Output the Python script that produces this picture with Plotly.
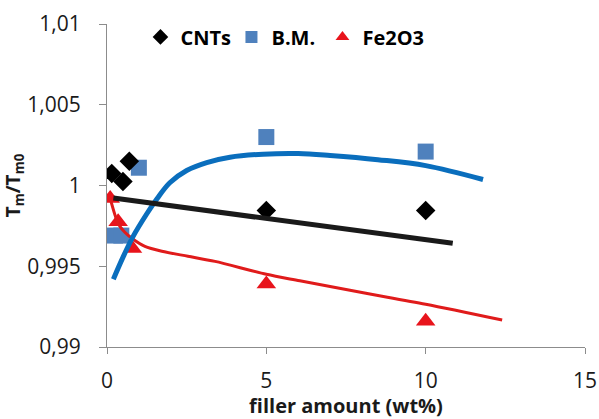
import plotly.graph_objects as go

# Data points
cnt_x = [0.15, 0.5, 0.7, 5, 10]
cnt_y = [1.00075, 1.00025, 1.0015, 0.99845, 0.99845]

bm_x = [0.25, 0.45, 1.0, 5, 10]
bm_y = [0.9969, 0.9969, 1.0011, 1.0030, 1.0021]

fe_x = [0.1, 0.35, 0.8, 5, 10]
fe_y = [0.9992, 0.99775, 0.9961, 0.9939, 0.9916]

# Trend lines
cnt_tx = [0.2, 10.85]
cnt_ty = [0.99922, 0.99642]

bm_tx = [0.2, 0.5, 0.82, 1.25, 1.57, 1.97, 2.5, 3.13, 3.86, 4.9, 6.0, 7.0, 8.5, 10.0, 11.8]
bm_ty = [0.9942, 0.99555, 0.99685, 0.99825, 0.99918, 1.00017, 1.00093, 1.00142, 1.00175, 1.00194, 1.00198, 1.00186, 1.0016, 1.00123, 1.00037]

fe_tx = [0.1, 0.35, 0.56, 0.82, 1.19, 1.72, 2.54, 3.39, 5.0, 6.05, 8.0, 10.0, 12.4]
fe_ty = [0.9992, 0.99765, 0.9971, 0.99667, 0.99623, 0.99593, 0.99562, 0.9953, 0.9945, 0.9941, 0.99337, 0.99265, 0.99167]

y_ticks = [0.99, 0.995, 1.0, 1.005, 1.01]
y_labels = ["0,99", "0,995", "1", "1,005", "1,01"]
x_ticks = [0, 5, 10, 15]

FONT = "'Open Sans', Lato, sans-serif"
TXT = "#1a1a1a"
AX = "#8c8c8c"

fig = go.Figure()
fig.add_trace(go.Scatter(x=fe_x, y=fe_y, mode="markers", name="Fe2O3", legendrank=3,
                         marker=dict(symbol="triangle-up", size=17, color="#E8141C")))
fig.add_trace(go.Scatter(x=bm_x, y=bm_y, mode="markers", name="B.M.", legendrank=2,
                         marker=dict(symbol="square", size=16, color="#4F81BD")))
fig.add_trace(go.Scatter(x=cnt_x, y=cnt_y, mode="markers", name="CNTs", legendrank=1,
                         marker=dict(symbol="diamond", size=15, color="#000000")))
# invisible spacer so the last legend label is not clipped
fig.add_trace(go.Scatter(x=[None], y=[None], mode="markers", name=" ", legendrank=4,
                         marker=dict(color="rgba(0,0,0,0)"), hoverinfo="skip"))

fig.add_trace(go.Scatter(x=fe_tx, y=fe_ty, mode="lines", line=dict(color="#E01B1B", width=3, shape="spline", smoothing=0.8),
                         showlegend=False, hoverinfo="skip"))
fig.add_trace(go.Scatter(x=bm_tx, y=bm_ty, mode="lines", line=dict(color="#0A6EBD", width=5, shape="spline", smoothing=1.0),
                         showlegend=False, hoverinfo="skip"))
fig.add_trace(go.Scatter(x=cnt_tx, y=cnt_ty, mode="lines", line=dict(color="#1a1a1a", width=5),
                         showlegend=False, hoverinfo="skip"))

fig.update_layout(
    width=599, height=419,
    margin=dict(l=107, r=14, t=24, b=72, autoexpand=False),
    plot_bgcolor="white", paper_bgcolor="white",
    font=dict(family=FONT, size=21, color=TXT),
    legend=dict(orientation="h", x=0.07, y=0.96, xanchor="left", yanchor="middle",
                font=dict(size=20, color="#000000", family=FONT, weight="bold"),
                bgcolor="rgba(0,0,0,0)", entrywidth=46, entrywidthmode="pixels",
                itemsizing="constant", tracegroupgap=0),
    showlegend=True,
)
fig.update_xaxes(range=[0, 15], tickvals=x_ticks, showgrid=False, zeroline=False,
                 showline=True, linecolor=AX, linewidth=1, automargin=False,
                 ticks="outside", ticklen=6, tickcolor=AX, ticklabelstandoff=9,
                 tickfont=dict(size=21, color=TXT),
                 title=dict(text="<b>filler amount (wt%)</b>", font=dict(size=20, color=TXT), standoff=0))
fig.update_yaxes(range=[0.99, 1.01], tickvals=y_ticks, ticktext=y_labels, showgrid=False, zeroline=False,
                 showline=True, linecolor=AX, linewidth=1, automargin=False,
                 ticks="outside", ticklen=7, tickcolor=AX, ticklabelstandoff=14,
                 tickfont=dict(size=21, color=TXT),
                 title=dict(text="<b>T<sub>m</sub>/T<sub>m0</sub></b>", font=dict(size=19, color=TXT), standoff=10))

fig.write_html("out.html")
